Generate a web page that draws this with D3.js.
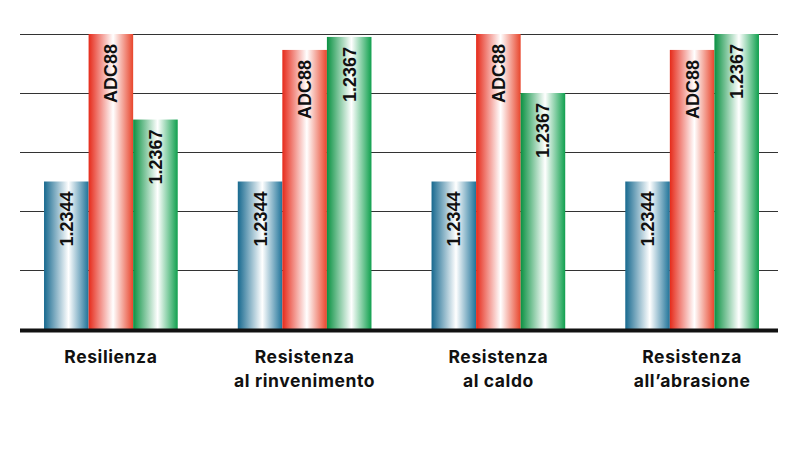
<!DOCTYPE html>
<html>
<head>
<meta charset="utf-8">
<script src="https://cdn.jsdelivr.net/npm/d3@7"></script>
<style>
  body { margin: 0; background: #fff; }
  svg { display: block; }
</style>
</head>
<body>
<svg id="chart"></svg>
<script>
// categories (two lines each), series names
var categories = [
    ["Resilienza"],
    ["Resistenza", "al rinvenimento"],
    ["Resistenza", "al caldo"],
    ["Resistenza", "all\u2019abrasione"]
]
var series = ["1.2344", "ADC88", "1.2367"]
var values1_2344 = [2.5, 2.5, 2.5, 2.5]
var valuesADC88 = [5, 4.73, 5, 4.73]
var values1_2367 = [3.55, 4.95, 4, 5]
var yTicks = [1, 2, 3, 4, 5]

var dimensions = {
    width: 800,
    height: 450,
    margin: { top: 34, bottom: 121, right: 22, left: 20 }
}

var svg = d3.select("#chart")
            .attr("width", dimensions.width)
            .attr("height", dimensions.height)

var seriesValues = [values1_2344, valuesADC88, values1_2367]
var dataset = categories.map((c, i) => ({
    key: i,
    lines: c,
    bars: series.map((s, j) => ({ name: s, idx: j, value: seriesValues[j][i] }))
}))

var xScale = d3.scaleBand()
               .domain(dataset.map(d => d.key))
               .range([14, 789])
               .paddingInner(0.31)
               .paddingOuter(0.155)

var xSub = d3.scaleBand()
             .domain(d3.range(series.length))
             .range([0, xScale.bandwidth()])

var yScale = d3.scaleLinear()
               .domain([0, 5])
               .range([dimensions.height - dimensions.margin.bottom, dimensions.margin.top])

// gradients: dark edges, white highlight slightly right of centre
var grads = [
    { id: "gBlue", left: "#17698f", right: "#1f7399" },
    { id: "gRed", left: "#e62a1a", right: "#e8452c" },
    { id: "gGreen", left: "#0a9142", right: "#10a04e" }
]
var defs = svg.append("defs")
grads.forEach(g => {
    var lg = defs.append("linearGradient").attr("id", g.id)
                 .attr("x1", "0%").attr("x2", "100%").attr("y1", "0%").attr("y2", "0%")
    lg.append("stop").attr("offset", "0%").attr("stop-color", g.left)
    lg.append("stop").attr("offset", "55%").attr("stop-color", "#ffffff")
    lg.append("stop").attr("offset", "100%").attr("stop-color", g.right)
})

// gridlines
var yAxisgen = d3.axisLeft(yScale)
                 .tickValues(yTicks)
                 .tickSize(-(778 - dimensions.margin.left))
                 .tickFormat("")
var yAxis = svg.append("g")
               .attr("transform", `translate(${dimensions.margin.left},0)`)
               .call(yAxisgen)
yAxis.select(".domain").remove()
yAxis.selectAll("line").attr("stroke", "#333").attr("stroke-width", 1)

// bars
var groups = svg.selectAll(".grp")
                .data(dataset)
                .enter().append("g")
                .attr("transform", d => `translate(${xScale(d.key)},0)`)

groups.selectAll("rect")
      .data(d => d.bars)
      .enter().append("rect")
      .attr("x", d => xSub(d.idx))
      .attr("width", xSub.bandwidth())
      .attr("y", d => yScale(d.value))
      .attr("height", d => yScale(0) - yScale(d.value))
      .attr("fill", d => `url(#${grads[d.idx].id})`)

groups.selectAll("text.lbl")
      .data(d => d.bars)
      .enter().append("text")
      .attr("class", "lbl")
      .attr("transform", d => `translate(${xSub(d.idx) + xSub.bandwidth() / 2 + 6.5},${yScale(d.value) + 10}) rotate(-90)`)
      .attr("text-anchor", "end")
      .style("font-family", "'Liberation Sans', Arial, sans-serif")
      .style("font-weight", "bold")
      .style("font-size", "18px")
      .style("fill", "#111")
      .text(d => d.name)

// baseline
svg.append("line")
   .attr("x1", dimensions.margin.left).attr("x2", 778)
   .attr("y1", yScale(0) + 1.5).attr("y2", yScale(0) + 1.5)
   .attr("stroke", "#111").attr("stroke-width", 4)

// category labels
var xAxisgen = d3.axisBottom(xScale).tickSize(0).tickFormat("")
var xAxis = svg.append("g")
               .attr("transform", `translate(0,${yScale(0)})`)
               .call(xAxisgen)
xAxis.select(".domain").remove()
xAxis.selectAll(".tick").each(function(k) {
    var t = d3.select(this).append("text")
              .attr("text-anchor", "middle")
              .attr("fill", "#111")
              .style("font-family", "Inter, 'Noto Sans', sans-serif")
              .style("font-weight", "bold")
              .style("font-size", "17.5px")
              .style("letter-spacing", "0.6px")
    dataset[k].lines.forEach((l, i) => {
        t.append("tspan").attr("x", 0).attr("y", 34 + i * 24).text(l)
    })
})
</script>
</body>
</html>
